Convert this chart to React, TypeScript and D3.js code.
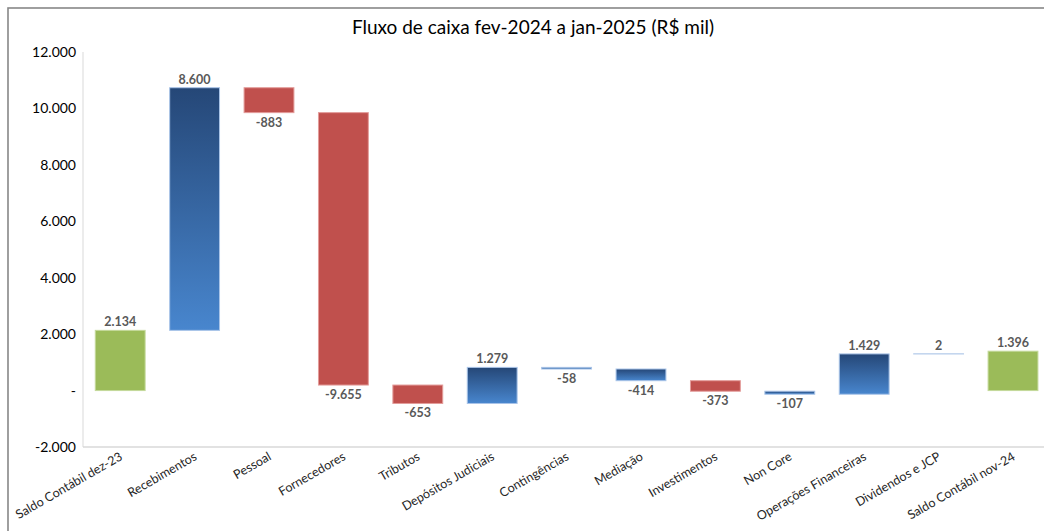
import { useEffect, useRef } from 'react';
import * as d3 from 'd3';

const categories = [
    'Saldo Contábil dez-23', 'Recebimentos', 'Pessoal', 'Fornecedores', 'Tributos',
    'Depósitos Judiciais', 'Contingências', 'Mediação', 'Investimentos', 'Non Core',
    'Operações Financeiras', 'Dividendos e JCP', 'Saldo Contábil nov-24'
];
const values = [2134, 8600, -883, -9655, -653, 1279, -58, -414, -373, -107, 1429, 2, 1396];
// 'total' bars start at zero, 'up'/'down' float on the running total
const kinds = ['total', 'up', 'down', 'down', 'down', 'up', 'up', 'up', 'down', 'up', 'up', 'up', 'total'];
const yTicks = [-2000, 0, 2000, 4000, 6000, 8000, 10000, 12000];

const App = () => {
    const svgRef = useRef<SVGSVGElement>(null);

    useEffect(() => {
        if (!svgRef.current) return;
        const svg = d3.select(svgRef.current);
        svg.selectAll('*').remove();

        const W = 1044, H = 531;
        const left = 83, top = 52, bottom = 447;
        const fmt = (v: number) => v === 0 ? '-' : d3.format(',')(v).replace(/,/g, '.').replace('\u2212', '-');

        const x = d3.scaleBand<string>()
            .domain(categories)
            .range([left, left + 13 * 74.4])
            .paddingInner(0.33)
            .paddingOuter(0.165);

        const y = d3.scaleLinear().domain([-2000, 12000]).range([bottom, top]);

        // running totals
        let run = 0;
        const bars = categories.map((c, i) => {
            let y0: number, y1: number;
            if (kinds[i] === 'total') {
                y0 = 0; y1 = values[i]; run = values[i];
            } else {
                y0 = run; y1 = run + values[i]; run = y1;
            }
            return { c, v: values[i], kind: kinds[i], lo: Math.min(y0, y1), hi: Math.max(y0, y1) };
        });

        const defs = svg.append('defs');
        const grad = defs.append('linearGradient')
            .attr('id', 'blueGrad')
            .attr('x1', 0).attr('y1', 0).attr('x2', 0).attr('y2', 1);
        grad.append('stop').attr('offset', '0%').attr('stop-color', '#254777');
        grad.append('stop').attr('offset', '100%').attr('stop-color', '#4886CE');

        // frame
        svg.append('rect')
            .attr('x', 8).attr('y', 8)
            .attr('width', W + 20).attr('height', H + 20)
            .attr('fill', 'none')
            .attr('stroke', '#878787')
            .attr('stroke-width', 1.6);

        svg.append('text')
            .attr('x', 533).attr('y', 34)
            .attr('text-anchor', 'middle')
            .style('font-family', 'Lato, "Open Sans", sans-serif')
            .style('font-size', '19px')
            .attr('fill', '#000')
            .text('Fluxo de caixa fev-2024 a jan-2025 (R$ mil)');

        // axes lines
        svg.append('line')
            .attr('x1', left).attr('x2', left)
            .attr('y1', top).attr('y2', bottom)
            .attr('stroke', '#d9d9d9');
        svg.append('line')
            .attr('x1', left).attr('x2', W)
            .attr('y1', bottom).attr('y2', bottom)
            .attr('stroke', '#d9d9d9').attr('stroke-width', 1.5);

        svg.append('g')
            .selectAll('text')
            .data(yTicks)
            .join('text')
            .attr('x', 76)
            .attr('y', d => y(d) + 5)
            .attr('text-anchor', 'end')
            .style('font-family', 'Lato, "Open Sans", sans-serif')
            .style('font-size', '14px')
            .attr('fill', '#000')
            .text(d => fmt(d));

        const fillOf = (b: typeof bars[0]) =>
            b.kind === 'total' ? '#9BBB59' : b.v < 0 && b.kind === 'down' ? '#C0504D' : 'url(#blueGrad)';
        const strokeOf = (b: typeof bars[0]) =>
            b.kind === 'total' ? '#C4D99B' : b.v < 0 && b.kind === 'down' ? '#E39C9A' : '#A9C4E8';

        svg.append('g')
            .selectAll('rect')
            .data(bars)
            .join('rect')
            .attr('x', d => x(d.c)!)
            .attr('width', x.bandwidth())
            .attr('y', d => y(d.hi))
            .attr('height', d => y(d.lo) - y(d.hi))
            .attr('fill', d => fillOf(d))
            .attr('stroke', d => strokeOf(d))
            .attr('stroke-width', 1);

        // data labels: above the bar for positive, below for negative
        svg.append('g')
            .selectAll('text')
            .data(bars)
            .join('text')
            .attr('x', d => x(d.c)! + x.bandwidth() / 2)
            .attr('y', d => d.v >= 0 ? y(d.hi) - 4 : y(d.lo) + 14)
            .attr('text-anchor', 'middle')
            .style('font-family', 'Lato, "Open Sans", sans-serif')
            .style('font-size', '12.5px')
            .style('font-weight', 'bold')
            .attr('fill', '#595959')
            .text(d => fmt(d.v));

        // category labels
        svg.append('g')
            .selectAll('text')
            .data(categories)
            .join('text')
            .attr('transform', d => `translate(${x(d)! + x.bandwidth() / 2 + 3},${bottom + 12}) rotate(-30)`)
            .attr('text-anchor', 'end')
            .style('font-family', 'Lato, "Open Sans", sans-serif')
            .style('font-size', '12.5px')
            .attr('fill', '#262626')
            .text(d => d);
    }, []);

    return (
        <svg ref={svgRef} width={1044} height={531}
            style={{ position: 'absolute', left: 0, top: 0, background: '#fff' }}></svg>
    );
};

export default App;
